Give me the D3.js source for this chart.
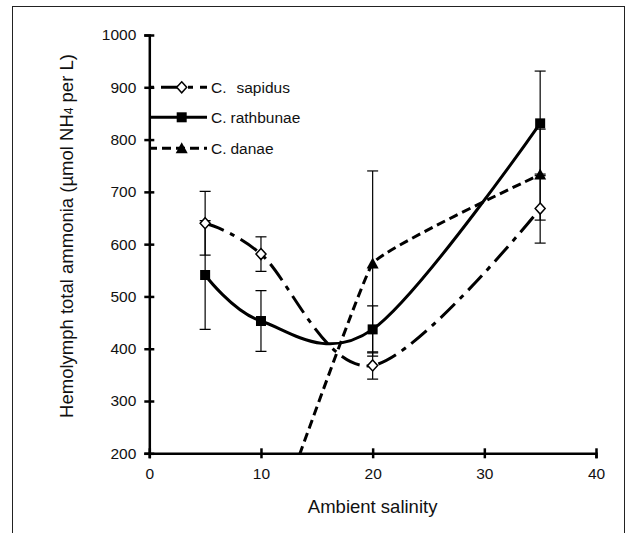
<!DOCTYPE html>
<html>
<head>
<meta charset="utf-8">
<script src="https://cdn.jsdelivr.net/npm/d3@7"></script>
<style>
  html, body { margin: 0; padding: 0; background: #fff; }
  svg { display: block; font-family: "Liberation Sans", Arial, sans-serif; }
</style>
</head>
<body>
<svg id="chart" width="629" height="533"></svg>
<script>
// Salinity levels (x) shared by all three species
const salinity = [5, 10, 20, 35];

// Hemolymph total ammonia means (µmol NH4 per L)
const sapidus   = [640, 581, 368, 668];
const rathbunae = [541, 453, 437, 831];
const danae     = [0, 0, 563, 733];

// Error bar half-widths (null = no bar)
const sapidusErr   = [61, 33, 26, 66];
const rathbunaeErr = [104, 58, 45, 100];
const danaeErr     = [null, null, 177, 87];

const xTicks = [0, 10, 20, 30, 40];
const yTicks = [200, 300, 400, 500, 600, 700, 800, 900, 1000];

const svg = d3.select("#chart");

// outer frame
svg.append("rect")
  .attr("x", 12.5).attr("y", 6.5)
  .attr("width", 612).attr("height", 560)
  .attr("fill", "none").attr("stroke", "#222").attr("stroke-width", 1);

const x = d3.scaleLinear().domain([0, 40]).range([149.3, 596]);
const y = d3.scaleLinear().domain([200, 1000]).range([453.3, 35]);

svg.append("defs").append("clipPath").attr("id", "plotClip")
  .append("rect")
  .attr("x", x(0)).attr("y", y(1000) - 40)
  .attr("width", x(40) - x(0)).attr("height", y(200) - y(1000) + 40);

// axes
const yAxis = svg.append("g")
  .attr("transform", `translate(${x(0)},0)`)
  .call(d3.axisLeft(y).tickValues(yTicks).tickSize(5).tickPadding(8).tickFormat(d3.format("d")));
yAxis.selectAll(".tick line").attr("x2", -5).attr("x1", 5);

const xAxis = svg.append("g")
  .attr("transform", `translate(0,${y(200)})`)
  .call(d3.axisBottom(x).tickValues(xTicks).tickSize(5).tickPadding(10).tickFormat(d3.format("d")));
xAxis.selectAll(".tick line").attr("y1", -5).attr("y2", 5);

[yAxis, xAxis].forEach(g => {
  g.select(".domain").attr("stroke", "#000").attr("stroke-width", 2.5);
  g.selectAll(".tick line").attr("stroke", "#000").attr("stroke-width", 2.5);
  g.selectAll(".tick text").attr("fill", "#111").style("font-size", "15.5px")
    .style("font-family", '"Liberation Sans", Arial, sans-serif');
});

// axis titles
svg.append("text")
  .attr("x", x(20)).attr("y", 513)
  .attr("text-anchor", "middle")
  .style("font-size", "18.5px").attr("fill", "#111")
  .text("Ambient salinity");

const yTitle = svg.append("text")
  .attr("transform", "translate(73,236) rotate(-90)")
  .attr("text-anchor", "middle")
  .style("font-size", "18.5px").attr("fill", "#111");
yTitle.append("tspan").text("Hemolymph total ammonia (µmol NH");
yTitle.append("tspan").style("font-size", "12px").text("4");
yTitle.append("tspan").text(" per L)");

// smoothed-line styles: sapidus and rathbunae use a uniform Catmull–Rom spline,
// danae a tighter cardinal spline
const series = [
  { name: "C. sapidus",   vals: sapidus,   err: sapidusErr,   dash: "20,7,5,7", marker: "diamond",  tension: 0 },
  { name: "C. rathbunae", vals: rathbunae, err: rathbunaeErr, dash: null,       marker: "square",   tension: 0 },
  { name: "C. danae",     vals: danae,     err: danaeErr,     dash: "9,5",      marker: "triangle", tension: 0.75 }
];

const plot = svg.append("g").attr("clip-path", "url(#plotClip)");

// error bars
series.forEach(s => {
  const g = plot.append("g");
  salinity.forEach((sx, i) => {
    const e = s.err[i];
    if (e == null) return;
    const cx = x(sx), top = y(s.vals[i] + e), bot = y(s.vals[i] - e);
    g.append("line").attr("x1", cx).attr("x2", cx).attr("y1", top).attr("y2", bot)
      .attr("stroke", "#000").attr("stroke-width", 1.2);
    [top, bot].forEach(yy => g.append("line")
      .attr("x1", cx - 5.5).attr("x2", cx + 5.5).attr("y1", yy).attr("y2", yy)
      .attr("stroke", "#000").attr("stroke-width", 1.2));
  });
});

// smoothed series lines
series.forEach(s => {
  const line = d3.line()
    .x((d, i) => x(salinity[i]))
    .y(d => y(d))
    .curve(d3.curveCardinal.tension(s.tension));
  plot.append("path")
    .attr("d", line(s.vals))
    .attr("fill", "none").attr("stroke", "#000").attr("stroke-width", 3)
    .attr("stroke-dasharray", s.dash);
});

function drawMarker(g, type, cx, cy) {
  if (type === "diamond") {
    g.append("path")
      .attr("d", `M${cx},${cy - 5.5}L${cx + 5},${cy}L${cx},${cy + 5.5}L${cx - 5},${cy}Z`)
      .attr("fill", "#fff").attr("stroke", "#000").attr("stroke-width", 1.5);
  } else if (type === "square") {
    g.append("rect").attr("x", cx - 5).attr("y", cy - 5).attr("width", 10).attr("height", 10)
      .attr("fill", "#000");
  } else {
    g.append("path")
      .attr("d", `M${cx},${cy - 6}L${cx + 6},${cy + 5}L${cx - 6},${cy + 5}Z`)
      .attr("fill", "#000");
  }
}

// markers
series.forEach(s => {
  const g = plot.append("g");
  salinity.forEach((sx, i) => {
    if (s.vals[i] < 200) return;
    drawMarker(g, s.marker, x(sx), y(s.vals[i]));
  });
});

// legend
const legY = [y(900), 117.3, 148.3];
const legStart = [149, 151, 151];
const legOffset = [27, 0, 3];
series.forEach((s, i) => {
  const g = svg.append("g");
  const ly = legY[i];
  g.append("line").attr("x1", legStart[i]).attr("x2", 207).attr("y1", ly).attr("y2", ly)
    .attr("stroke", "#000").attr("stroke-width", 3)
    .attr("stroke-dasharray", s.dash)
    .attr("stroke-dashoffset", legOffset[i]);
  drawMarker(g, s.marker, 181.7, ly);
  const t = g.append("text").attr("x", 211).attr("y", ly + 5.5)
    .style("font-size", "15.5px").attr("fill", "#111");
  const parts = s.name.split(" ");
  t.append("tspan").text(parts[0]);
  t.append("tspan").attr("dx", i === 0 ? 10 : 4).text(parts[1]);
});
</script>
</body>
</html>
